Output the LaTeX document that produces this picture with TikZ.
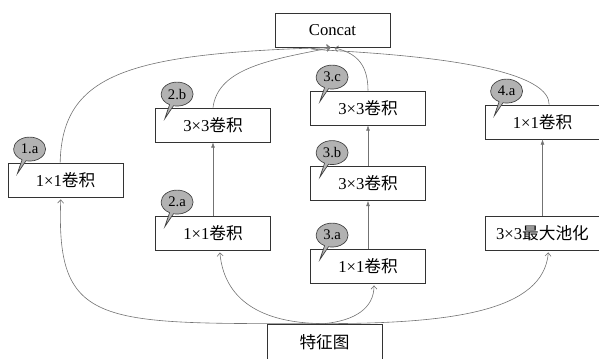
\documentclass[tikz,border=0pt]{standalone}
\usepackage{fontspec}
\setmainfont{Liberation Serif}
\newfontfamily\cjk{Noto Sans CJK SC}
\usetikzlibrary{shapes.callouts, arrows.meta}

\tikzset{
  box/.style={draw=black!80, line width=0.6pt, fill=white, minimum width=115*0.75pt,
    minimum height=34*0.75pt, inner sep=0pt, font=\fontsize{12.5}{15}\selectfont},
  bubble/.style={ellipse callout, draw=black!75, line width=0.5pt, fill=black!30,
    minimum width=24pt, minimum height=18pt, inner sep=0pt,
    callout relative pointer={(-5pt,-10pt)}, font=\fontsize{11}{13}\selectfont},
  link/.style={draw=black!55, line width=0.45pt},
  up/.style={link, -{Latex[length=4pt,width=3pt]}},
  feed/.style={link, -{Straight Barb[length=2.5pt,width=4.5pt]}, shorten >=1.5pt}
}

\begin{document}
\begin{tikzpicture}[x=0.75pt, y=0.75pt]
  \useasboundingbox (0,0) rectangle (599,358);
  % boxes
  \node[box] (concat) at (332.5,328) {Concat};
  \node[box] (a1) at (65.5,178) {1×1\cjk 卷积};
  \node[box] (b2) at (213,233) {3×3\cjk 卷积};
  \node[box] (a2) at (213,125) {1×1\cjk 卷积};
  \node[box] (c3) at (368,250) {3×3\cjk 卷积};
  \node[box] (b3) at (368,174.5) {3×3\cjk 卷积};
  \node[box] (a3) at (368,92) {1×1\cjk 卷积};
  \node[box] (a4) at (542.5,236) {1×1\cjk 卷积};
  \node[box] (pool) at (542.5,125) {3×3\cjk 最大池化};
  \node[box, minimum height=36*0.75pt] (fmap) at (324.5,16) {\cjk 特征图};

  % tags
  \node[bubble] (t1a) at ([shift={(22,13.5)}]a1.north west) {1.a};
  \node[bubble] (t2a) at ([shift={(22,13.5)}]a2.north west) {2.a};
  \node[bubble] (t2b) at ([shift={(22,13.5)}]b2.north west) {2.b};
  \node[bubble] (t3a) at ([shift={(22,13.5)}]a3.north west) {3.a};
  \node[bubble] (t3b) at ([shift={(22,13.5)}]b3.north west) {3.b};
  \node[bubble] (t3c) at ([shift={(22,13.5)}]c3.north west) {3.c};
  \node[bubble] (t4a) at ([shift={(22,13.5)}]a4.north west) {4.a};

  % inside the branches
  \draw[up] (a2) -- (b2);
  \draw[up] (a3) -- (b3);
  \draw[up] (b3) -- (c3);
  \draw[up] (pool) -- (a4);

  % feature map into the branches
  \draw[feed] (fmap.north) .. controls +(-224,0) and +(-5,-131) .. ([xshift=-3.5pt]a1.south);
  \draw[feed] (fmap.north) .. controls +(-55,0) and +(5,-55) .. ([xshift=5pt]a2.south);
  \draw[feed] (fmap.north) .. controls +(30,3) and +(0,-25) .. ([xshift=4.5pt]a3.south);
  \draw[feed] (fmap.north) .. controls +(130,0) and +(-5,-60) .. ([xshift=4.5pt]pool.south);

  % branches into concat
  \draw[feed] ([xshift=-4pt]a1.north) .. controls +(2,90) and +(-202,-6) .. (concat.south);
  \draw[feed] (b2.north) .. controls +(5,40) and +(-60,-12) .. (concat.south);
  \draw[feed] (c3.north) .. controls +(0,30) and +(20,-5) .. (concat.south);
  \draw[feed] ([xshift=5pt]a4.north) .. controls +(0,58) and +(-100,-4) .. (concat.south);
\end{tikzpicture}
\end{document}
